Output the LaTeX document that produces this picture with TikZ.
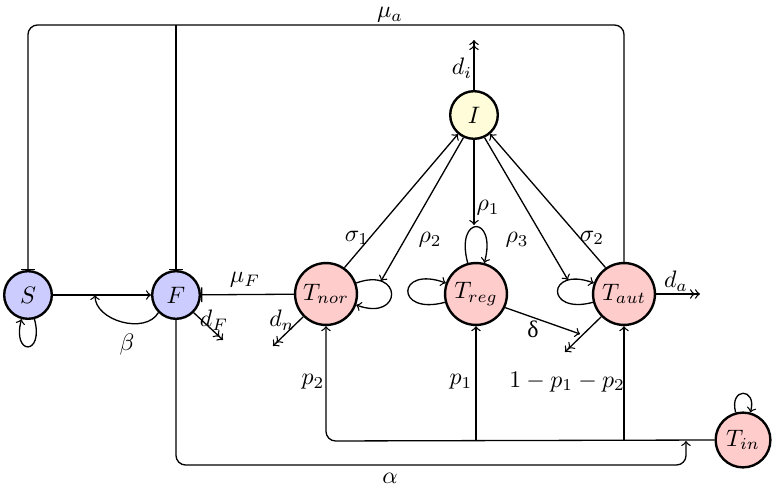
\documentclass[tikz,border=0pt]{standalone}
\usepackage{amssymb}
\usepackage{amsmath}
\usepackage{xcolor}
\usepackage{fontspec}
\newfontfamily\grkfont{Liberation Serif}
\usepackage{tikz}

\begin{document}
\begin{tikzpicture}[x=.42pt,y=-.42pt,line width=.55pt,
  cell/.style={circle,draw,line width=1pt,minimum size=20pt,inner sep=0pt},
  tcell/.style={circle,draw,line width=1pt,minimum size=26pt,inner sep=0pt,fill=red!20},
  rate/.style={inner sep=1pt}]
\useasboundingbox (0,0) rectangle (774,488);

\node[cell,fill=blue!20] (S) at (28,295) {$S$};
\node[cell,fill=blue!20] (F) at (176,295) {$F$};
\node[cell,fill=yellow!15] (I) at (474,115) {$I$};
\node[tcell] (Tnor) at (326,294) {$T_{nor}$};
\node[tcell] (Treg) at (476,294) {$T_{reg}$};
\node[tcell] (Taut) at (624,294) {$T_{aut}$};
\node[tcell,minimum size=23pt] (Tin) at (743,440) {$T_{in}$};

\coordinate (top) at (0,25);
\coordinate (bus) at (0,441);
\coordinate (low) at (0,465);
\coordinate (ain) at (686,0);
\coordinate (beta) at (95,295);
\coordinate (dF) at (223,340);
\coordinate (dn) at (273,346);
\coordinate (da) at (700,294);
\coordinate (di) at (474,40);
\coordinate (dout) at (565,352);
\coordinate (dl) at (580,334);
\coordinate (r1) at (474,225);
\coordinate (r2) at (381,281);
\coordinate (r3) at (568,280);

% apoptosis feedback
\draw[-|,rounded corners=4pt] (Taut.north) -- (Taut |- top) -- (S |- top) -- (S.north);
\draw[-|] (F |- top) -- (F.north);
\node[rate] (mua) at (390,15) {$\mu_a$};

\draw[->] (S) -- (F);
\draw[->] (F.-135) to[out=-120,in=-90] (beta);
\node[rate] (betal) at (127,345) {$\beta$};
\draw[->>] (F.-45) -- (dF);
\node[rate] (dFl) at (214,320) {$d_F$};
\draw[-|] (Tnor) -- (F);
\node[rate] (muF) at (245,280) {$\mu_F$};

% self loops
\draw[->] (S) to[out=-75,in=-105,min distance=16pt] (S);
\draw[->] (Tnor) to[out=20,in=-20,min distance=21pt] (Tnor);
\draw[->] (Treg) to[out=-165,in=160,min distance=22pt] (Treg);
\draw[->] (Treg) to[out=105,in=75,min distance=21pt] (Treg);
\draw[->] (Taut) to[out=-165,in=160,min distance=21pt] (Taut);
\draw[->] (Tin) to[out=105,in=75,min distance=11pt] (Tin);

% I exchanges
\draw[->] (Tnor.55) -- (I.-130);
\draw[->] (I.-115) -- (r2);
\draw[->] (I.south) -- (r1);
\draw[->] (I.-65) -- (r3);
\draw[->] (Taut.125) -- (I.-50);
\node[rate] (s1) at (357,238) {$\sigma_1$};
\node[rate] (p2l) at (430,240) {$\rho_2$};
\node[rate] (p1l) at (488,208) {$\rho_1$};
\node[rate] (p3l) at (517,240) {$\rho_3$};
\node[rate] (s2) at (592,238) {$\sigma_2$};
\draw[->>] (I.north) -- (di);
\node[rate] (dil) at (462,68) {$d_i$};

% outflows
\draw[->>] (Taut.east) -- (da);
\node[rate] (dal) at (676,281) {$d_a$};
\draw[->>] (Tnor.-135) -- (dn);
\node[rate] (dnl) at (282,320) {$d_n$};
\draw[->>] (Taut.-135) -- (dout);
\draw[->] (Treg.-25) -- (dl);
\node[rate] (dell) at (533,329) {\grkfont δ};

% inflow from T_in
\draw[->,rounded corners=4pt] (Tin.west) -- (Tnor |- bus) -- (Tnor.south);
\draw[->] (Treg |- bus) -- (Treg.south);
\draw[->] (Taut |- bus) -- (Taut.south);
\node[rate] (q2) at (313,382) {$p_2$};
\node[rate] (q1) at (461,382) {$p_1$};
\node[rate] (q3) at (567,382) {$1-p_1-p_2$};
\draw[->,rounded corners=4pt] (F.south) -- (F |- low) -- (ain |- low) -- (ain |- bus);
\node[rate] (al) at (390,478) {$\alpha$};
\end{tikzpicture}
\end{document}
